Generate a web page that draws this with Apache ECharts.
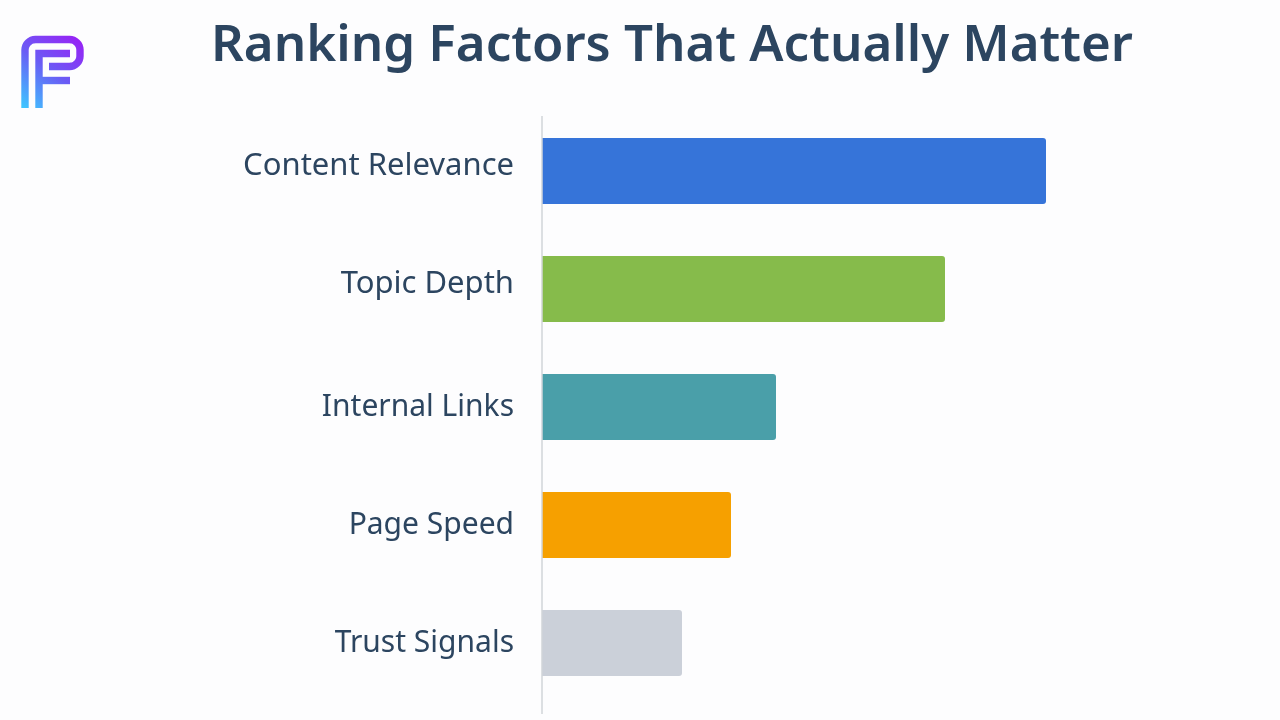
<!DOCTYPE html>
<html><head><meta charset="utf-8"><style>html,body{margin:0;padding:0;background:#fdfdfe}#c{width:1280px;height:720px}</style>
<script src="https://cdn.jsdelivr.net/npm/echarts@6/dist/echarts.min.js"></script></head>
<body><div id="c"></div><script>
const categories=['Content Relevance','Topic Depth','Internal Links','Page Speed','Trust Signals'];
const values=[504,403,234,189,140];
const colors=['#3674d9','#86bb4b','#4a9fa9','#f6a000','#cbd0d9'];
const title='Ranking Factors That Actually Matter';
const chart=echarts.init(document.getElementById('c'));
const logoFill=()=>new echarts.graphic.LinearGradient(80,36,25,108,[{offset:0,color:'#9a1ff5'},{offset:0.5,color:'#6a5cf5'},{offset:1,color:'#3fc4ff'}],true);
function corner(cx,cy,r,a0,a1){const p=[];for(let k=0;k<=8;k++){const a=(a0+(a1-a0)*k/8)*Math.PI/180;p.push([cx+r*Math.cos(a),cy+r*Math.sin(a)]);}return p;}
const logoOuter=[[25,108],...corner(35.5,50,10.5,180,270),...corner(69.5,50,10.5,270,360),...corner(69.5,56,10.5,0,90),[49,66.5]];
const labelFont={fontFamily:'Noto Sans',color:'#2c4560'};
chart.setOption({
 animation:false,backgroundColor:'#fdfdfe',
 title:{text:title,left:667,top:16,textAlign:'center',textStyle:{fontFamily:'Noto Sans',fontSize:51,fontWeight:600,color:'#2c4560'}},
 grid:{left:542,top:112,width:640,height:590},
 xAxis:{type:'value',min:0,max:640,show:false},
 yAxis:{type:'category',inverse:true,data:categories,axisTick:{show:false},axisLine:{show:false},
  axisLabel:{...labelFont,fontSize:30,margin:28,
   formatter:(v,i)=>i<2?`{hi|${v}}`:`{lo|${v}}`,
   rich:{hi:{...labelFont,fontSize:31,padding:[0,0,9,0]},lo:{...labelFont,fontSize:30,padding:[0,0,0,0]}}}},
 series:[{type:'bar',barCategoryGap:'44%',data:values.map((v,i)=>({value:v,itemStyle:{color:colors[i],borderRadius:[0,3,3,0]}}))}],
 graphic:[
  {type:'line',shape:{x1:542,y1:116,x2:542,y2:714},style:{stroke:'#d0d4d8',lineWidth:1.5},z:10},
  {type:'polyline',shape:{points:logoOuter},style:{fill:null,stroke:logoFill(),lineWidth:7.4}},
  {type:'polyline',shape:{points:[[39,108],[39,53.5],[70,53.5]]},style:{fill:null,stroke:logoFill(),lineWidth:7.4}},
  {type:'line',shape:{x1:39,y1:80.5,x2:70,y2:80.5},style:{stroke:logoFill(),lineWidth:7.4}}
 ]
});
</script></body></html>
